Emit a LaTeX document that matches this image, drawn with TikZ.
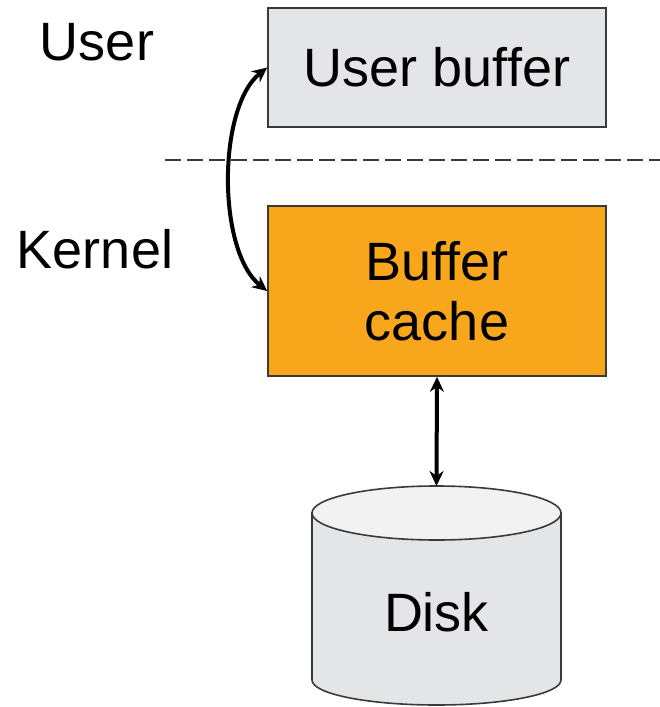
\documentclass[tikz,border=0pt]{standalone}
\usepackage{fontspec}
\setmainfont{Liberation Sans}
\usetikzlibrary{arrows.meta}
\definecolor{boxgray}{HTML}{E4E5E7}
\definecolor{topgray}{HTML}{F2F2F2}
\definecolor{cacheorange}{HTML}{F8A61C}
\definecolor{edgegray}{HTML}{3A3A3A}
\tikzset{
  box/.style={draw=edgegray, line width=1.6pt, inner sep=0pt, align=center,
    font=\fontsize{54}{60}\selectfont},
  lbl/.style={inner sep=0pt, font=\fontsize{54}{60}\selectfont},
  conn/.style={draw=black, line width=4pt, arrows={Stealth[length=15pt,width=14pt]-Stealth[length=15pt,width=14pt]}},
}
\begin{document}
\begin{tikzpicture}[x=1pt,y=1pt]
\useasboundingbox (0,0) rectangle (660,-707);
% boxes
\node[box, fill=boxgray, minimum width=338, minimum height=119] (ub) at (437,-67.5) {User buffer};
\node[box, fill=cacheorange, minimum width=338, minimum height=170] (bc) at (437,-291) {Buffer\\cache};
% labels
\node[lbl] (user) at (97,-42) {User};
\node[lbl] (kernel) at (95,-249) {Kernel};
% dashed separator
\coordinate (dl) at (165,-160);
\coordinate (dr) at (660,-160);
\draw[edgegray, line width=1.6pt, dash pattern=on 16pt off 6pt] (dl) -- (dr);
% disk cylinder
\fill[boxgray] (312,-512) -- (312,-680) arc[start angle=180, end angle=360, x radius=124.5, y radius=25] -- (561,-512) -- cycle;
\draw[edgegray, line width=1.6pt] (312,-512) -- (312,-680) arc[start angle=180, end angle=360, x radius=124.5, y radius=25] -- (561,-512);
\draw[edgegray, line width=1.6pt, fill=topgray] (436.5,-513) ellipse[x radius=124.5, y radius=27];
\node[lbl] (disk) at (436.5,-612) {Disk};
\coordinate (disktop) at (436.5,-486);
% connectors
\draw[conn] (ub.west) .. controls +(-50,-40) and +(-50,40) .. (bc.west);
\draw[conn] (bc.south) -- (disktop);
\end{tikzpicture}
\end{document}
